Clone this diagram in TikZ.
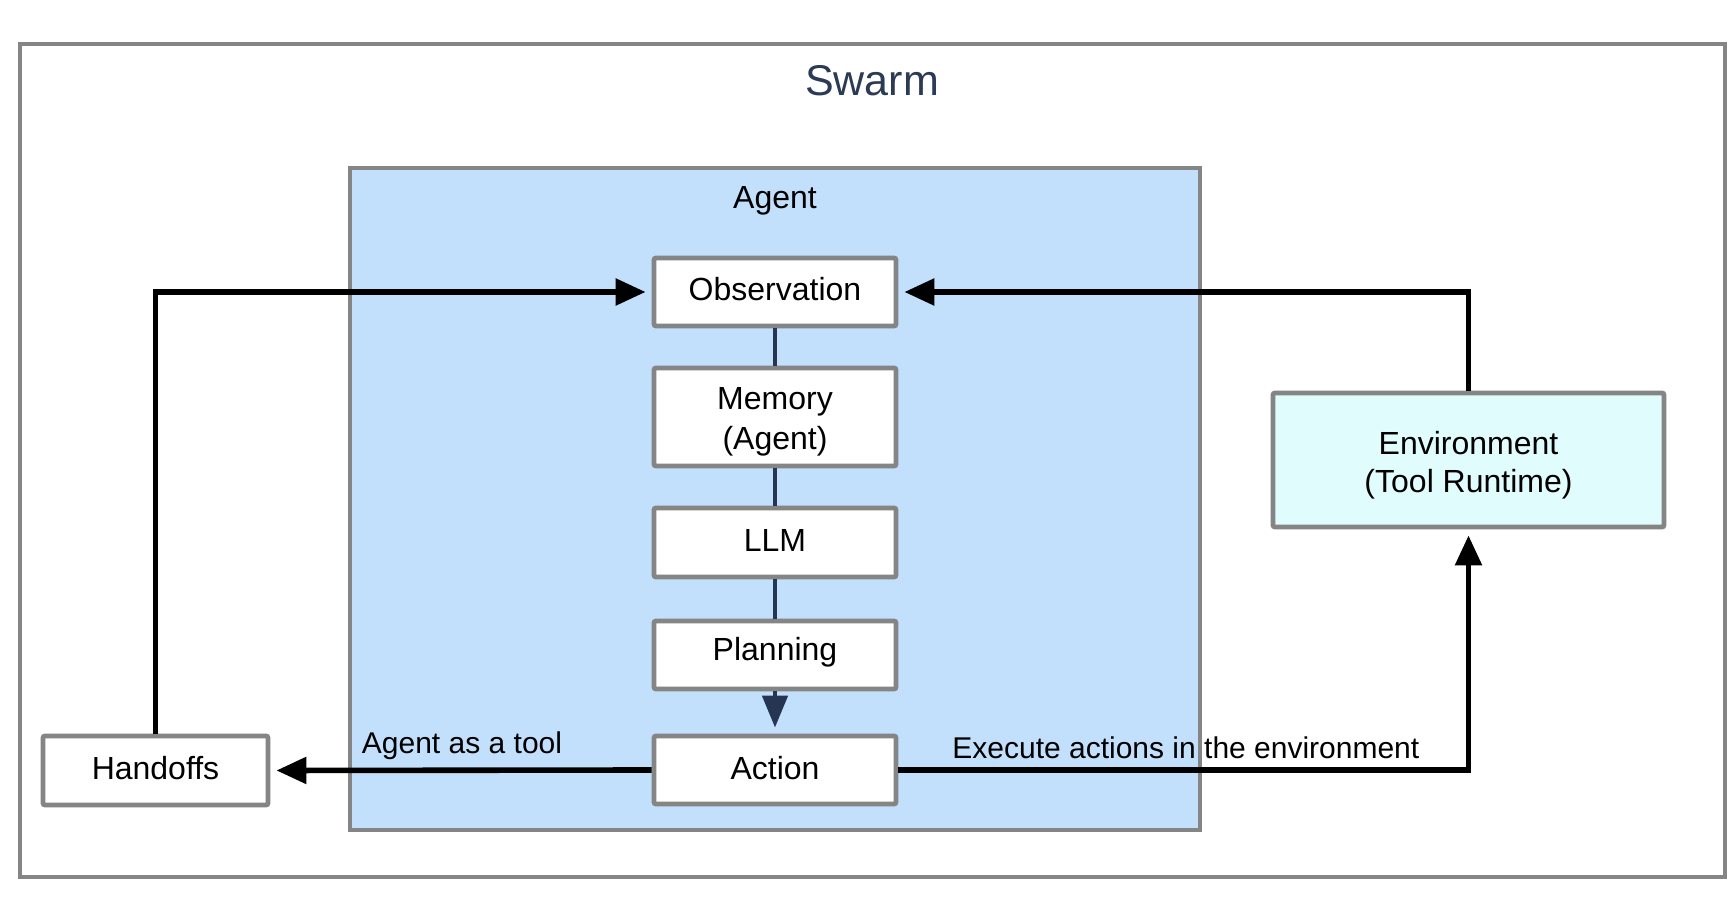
\documentclass[tikz,border=0pt]{standalone}
\usepackage{fontspec}
\setmainfont{Liberation Sans}
\usetikzlibrary{arrows.meta}
\definecolor{frame}{HTML}{858585}
\definecolor{agentblue}{HTML}{C2E0FC}
\definecolor{envcyan}{HTML}{E0FCFD}
\definecolor{navy}{HTML}{253552}
\definecolor{titlenavy}{HTML}{2B3A55}
\tikzset{
  box/.style={draw=frame, line width=2.4pt, fill=white, rounded corners=1pt, inner sep=0pt,
    minimum width=121pt, minimum height=34pt},
  boxtext/.style={font=\fontsize{16}{20}\selectfont, align=center, inner sep=0pt},
  flow/.style={line width=2.8pt, black, -{Triangle[length=15pt,width=13pt]}},
  inner/.style={line width=2.3pt, navy},
  lbl/.style={font=\fontsize{15}{18}\selectfont, inner sep=0pt}
}
\begin{document}
\begin{tikzpicture}[x=0.5pt,y=-0.5pt]
\useasboundingbox (0,0) rectangle (1736,924);
\fill[white] (0,0) rectangle (1736,924);
% outer frame
\draw[frame, line width=2.2pt] (20,44) rectangle (1725,877);
\node[font=\fontsize{21.5}{26}\selectfont, text=titlenavy] (swarm) at (872,81) {Swarm};
% agent box
\draw[frame, line width=2.4pt, fill=agentblue] (350,168) rectangle (1200,830);
\node[font=\fontsize{16}{20}\selectfont] (agentlbl) at (775,201) {Agent};
% nodes
\node[box, label={[boxtext, yshift=1.6pt]center:Observation}] (obs) at (775,292) {};
\node[box, minimum height=49pt, label={[boxtext, yshift=-2.2pt]center:Memory\\(Agent)}] (mem) at (775,417) {};
\node[box, minimum height=34.5pt, label={[boxtext, yshift=1.2pt]center:LLM}] (llm) at (775,542.5) {};
\node[box, label={[boxtext, yshift=1.2pt]center:Planning}] (plan) at (775,655) {};
\node[box, label={[boxtext, yshift=1.2pt]center:Action}] (act) at (775,770) {};
\node[box, minimum width=112.5pt, minimum height=34.5pt, label={[boxtext, yshift=1.2pt]center:Handoffs}] (hand) at (155.5,770.5) {};
\node[box, fill=envcyan, minimum width=195.5pt, minimum height=67pt, label={[boxtext, font=\fontsize{16}{19}\selectfont, yshift=-2.6pt]center:Environment\\(Tool Runtime)}] (env) at (1468.5,460) {};
% inner chain
\draw[inner] (obs.south) -- (mem.north);
\draw[inner] (mem.south) -- (llm.north);
\draw[inner] (llm.south) -- (plan.north);
\draw[inner, -{Triangle[length=16pt,width=12.5pt]}, shorten >=3pt] (plan.south) -- (act.north);
% outer loops
\draw[flow, shorten >=3pt] (hand.north) |- (obs.west);
\draw[flow, shorten >=3pt] (env.north) |- (obs.east);
\draw[flow, shorten >=3pt] (act.west) -- (hand.east);
\draw[flow, shorten >=3pt] (act.east) -| (env.south);
% labels
\node[lbl] (l1) at (462,746) {Agent as a tool};
\node[lbl, anchor=west] (l2) at (952,748) {Execute actions in the environment};
\end{tikzpicture}
\end{document}
